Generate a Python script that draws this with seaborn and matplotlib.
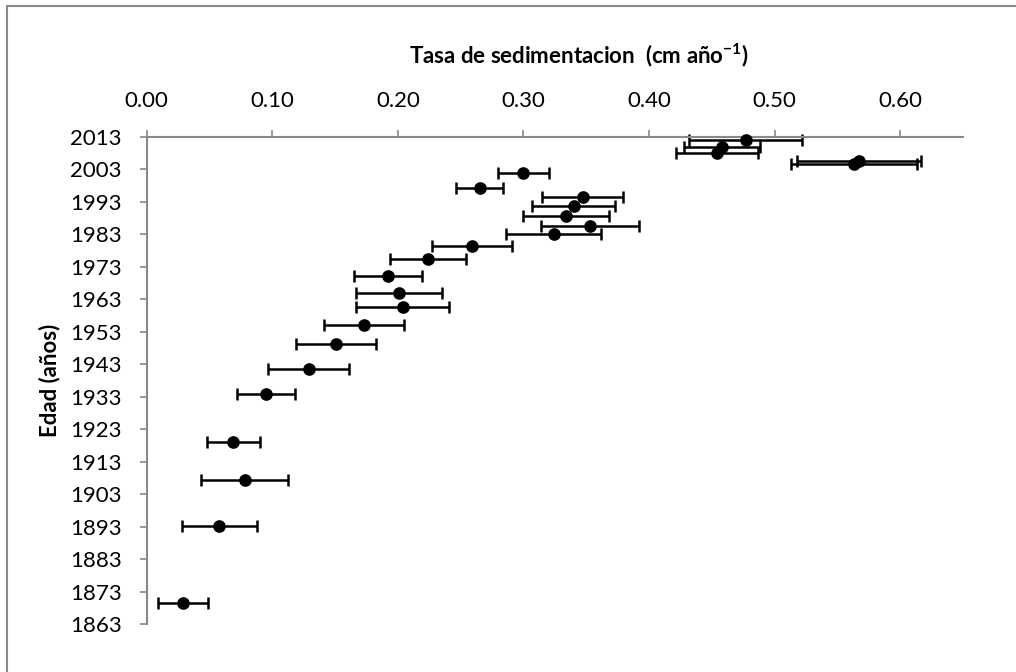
import matplotlib
matplotlib.use("Agg")
import matplotlib.pyplot as plt
from matplotlib.lines import Line2D
import numpy as np
import pandas as pd
import seaborn as sns

# Sediment age (year) and sedimentation rate (cm/yr) with its uncertainty
edad = [2012.0, 2009.9, 2007.9, 2005.5, 2004.5, 2001.9, 1997.3, 1994.4,
        1991.6, 1988.6, 1985.5, 1983.1, 1979.4, 1975.3, 1970.1, 1964.9,
        1960.5, 1954.9, 1949.1, 1941.5, 1933.7, 1919.0, 1907.2, 1893.2,
        1869.4]
tasa = [0.477, 0.458, 0.454, 0.567, 0.563, 0.300, 0.265, 0.347,
        0.340, 0.334, 0.353, 0.324, 0.259, 0.224, 0.192, 0.201,
        0.204, 0.173, 0.151, 0.129, 0.095, 0.069, 0.078, 0.058,
        0.029]
error = [0.045, 0.030, 0.033, 0.049, 0.050, 0.020, 0.019, 0.032,
         0.033, 0.034, 0.039, 0.038, 0.032, 0.030, 0.027, 0.034,
         0.037, 0.032, 0.032, 0.032, 0.023, 0.021, 0.035, 0.030,
         0.020]

x_ticks = [0.0, 0.1, 0.2, 0.3, 0.4, 0.5, 0.6]
x_tick_labels = ["0.00", "0.10", "0.20", "0.30", "0.40", "0.50", "0.60"]
y_ticks = list(range(1863, 2014, 10))

titulo = r"Tasa de sedimentacion  (cm año$^{\mathbf{-1}}$)"
etiqueta_y = "Edad (años)"

sns.set_theme(style="white")
plt.rcParams["font.family"] = ["Lato", "DejaVu Sans"]
plt.rcParams["mathtext.fontset"] = "custom"
plt.rcParams["mathtext.rm"] = "Lato"
plt.rcParams["mathtext.bf"] = "Lato:bold"

W, H = 1016, 672
gray = "#898989"

fig = plt.figure(figsize=(W / 100, H / 100), dpi=100)
left, right, top, bottom = 146.5, 963.3, 136.7, 624.0
ax = fig.add_axes([left / W, 1 - bottom / H, (right - left) / W, (bottom - top) / H])

df = pd.DataFrame({"edad": edad, "tasa": tasa, "error": error})

ax.errorbar(df["tasa"], df["edad"], xerr=df["error"], fmt="none",
            ecolor="black", elinewidth=1.8, capsize=4, capthick=1.8,
            zorder=2, clip_on=False)
sns.scatterplot(data=df, x="tasa", y="edad", ax=ax, color="black",
                s=83, edgecolor="black", linewidth=0, zorder=3, clip_on=False)

ax.set_xlim(0, 0.65)
ax.set_ylim(1863, 2013)
ax.set_xticks(x_ticks)
ax.set_xticklabels(x_tick_labels)
ax.set_yticks(y_ticks)
ax.set_xlabel("")
ax.set_ylabel("")

for side in ["right", "bottom"]:
    ax.spines[side].set_visible(False)
for side in ["top", "left"]:
    ax.spines[side].set_visible(True)
    ax.spines[side].set_color(gray)
    ax.spines[side].set_linewidth(1.5)

ax.tick_params(axis="x", top=True, bottom=False, labeltop=True,
               labelbottom=False, direction="out", length=5, width=1.2,
               color=gray, pad=13.5, labelsize=16, labelcolor="black")
ax.tick_params(axis="y", left=True, direction="out", length=5, width=1.2,
               color=gray, pad=13, labelsize=16, labelcolor="black")

fig.text(579 / W, 1 - 55 / H, titulo, ha="center", va="center",
         fontsize=16, fontweight="bold", color="black")
fig.text(50 / W, 1 - 380 / H, etiqueta_y, rotation=90, ha="center",
         va="center", fontsize=16, fontweight="bold", color="black")

# chart area frame (top and left edges)
fig.add_artist(Line2D([6.5 / W, 1.0], [1 - 5.7 / H, 1 - 5.7 / H],
                      transform=fig.transFigure, color=gray, lw=1.5))
fig.add_artist(Line2D([6.5 / W, 6.5 / W], [0.0, 1 - 5.7 / H],
                      transform=fig.transFigure, color=gray, lw=1.5))

fig.savefig("out.png", dpi=100)
